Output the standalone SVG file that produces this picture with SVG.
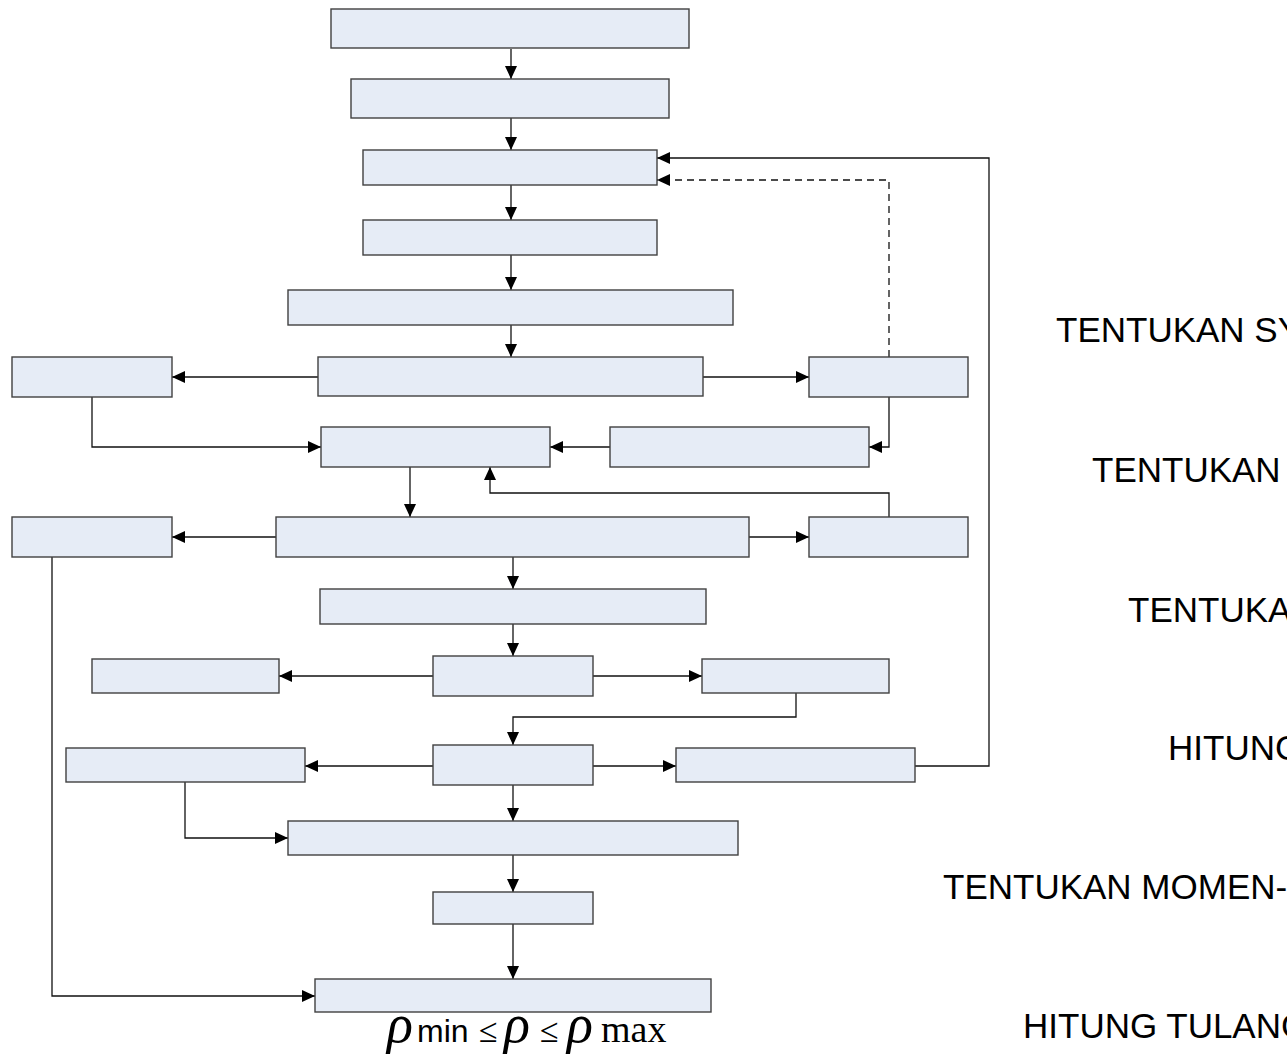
<svg xmlns="http://www.w3.org/2000/svg" width="1287" height="1057" viewBox="0 0 1287 1057">
<style>
.box{fill:#E6ECF6;stroke:#404040;stroke-width:1.4}
.c{fill:none;stroke:#111;stroke-width:1.3}
.d{stroke-dasharray:7 5}
.lbl{font-family:"Liberation Sans",Arial,sans-serif;font-size:35px;fill:#000}
.ser{font-family:"Liberation Serif","Times New Roman",serif}
.san{font-family:"Liberation Sans",Arial,sans-serif}
.rho{font-family:"Liberation Serif","Times New Roman",serif;font-style:italic;font-size:54px}
</style>
<defs>
<marker id="ah" markerUnits="userSpaceOnUse" markerWidth="14" markerHeight="12" refX="13" refY="6" orient="auto">
<path d="M0,0 L13,6 L0,12 Z" fill="#000"/>
</marker>
</defs>
<rect width="1287" height="1057" fill="#fff"/>
<g id="connectors">
<path class="c" marker-end="url(#ah)" d="M511 49 V79"/>
<path class="c" marker-end="url(#ah)" d="M511 118 V150"/>
<path class="c" marker-end="url(#ah)" d="M511 185 V220"/>
<path class="c" marker-end="url(#ah)" d="M511 255 V290"/>
<path class="c" marker-end="url(#ah)" d="M511 325 V357"/>
<path class="c" marker-end="url(#ah)" d="M318 377 H172"/>
<path class="c" marker-end="url(#ah)" d="M703 377 H809"/>
<path class="c" marker-end="url(#ah)" d="M92 397 V447 H321"/>
<path class="c" marker-end="url(#ah)" d="M889 397 V447 H869"/>
<path class="c d" marker-end="url(#ah)" d="M889 357 V180 H657"/>
<path class="c" marker-end="url(#ah)" d="M610 447 H550"/>
<path class="c" marker-end="url(#ah)" d="M410 467 V517"/>
<path class="c" marker-end="url(#ah)" d="M889 517 V493 H490 V467"/>
<path class="c" marker-end="url(#ah)" d="M276 537 H172"/>
<path class="c" marker-end="url(#ah)" d="M749 537 H809"/>
<path class="c" marker-end="url(#ah)" d="M52 557 V996 H315"/>
<path class="c" marker-end="url(#ah)" d="M513 557 V589"/>
<path class="c" marker-end="url(#ah)" d="M513 624 V656"/>
<path class="c" marker-end="url(#ah)" d="M433 676 H279"/>
<path class="c" marker-end="url(#ah)" d="M593 676 H702"/>
<path class="c" marker-end="url(#ah)" d="M796 693 V717 H513 V745"/>
<path class="c" marker-end="url(#ah)" d="M433 766 H305"/>
<path class="c" marker-end="url(#ah)" d="M593 766 H676"/>
<path class="c" marker-end="url(#ah)" d="M915 766 H989 V158 H657"/>
<path class="c" marker-end="url(#ah)" d="M185 782 V838 H288"/>
<path class="c" marker-end="url(#ah)" d="M513 785 V821"/>
<path class="c" marker-end="url(#ah)" d="M513 855 V892"/>
<path class="c" marker-end="url(#ah)" d="M513 924 V979"/>
</g>
<g id="n1"><rect class="box" x="331" y="9" width="358" height="39"/></g>
<g id="n2"><rect class="box" x="351" y="79" width="318" height="39"/></g>
<g id="n3"><rect class="box" x="363" y="150" width="294" height="35"/></g>
<g id="n4"><rect class="box" x="363" y="220" width="294" height="35"/></g>
<g id="n5"><rect class="box" x="288" y="290" width="445" height="35"/></g>
<g id="n6"><rect class="box" x="318" y="357" width="385" height="39"/></g>
<g id="n6l"><rect class="box" x="12" y="357" width="160" height="40"/></g>
<g id="n6r"><rect class="box" x="809" y="357" width="159" height="40"/></g>
<g id="n7"><rect class="box" x="321" y="427" width="229" height="40"/></g>
<g id="n7r"><rect class="box" x="610" y="427" width="259" height="40"/></g>
<g id="n8l"><rect class="box" x="12" y="517" width="160" height="40"/></g>
<g id="n8"><rect class="box" x="276" y="517" width="473" height="40"/></g>
<g id="n8r"><rect class="box" x="809" y="517" width="159" height="40"/></g>
<g id="n9"><rect class="box" x="320" y="589" width="386" height="35"/></g>
<g id="n10l"><rect class="box" x="92" y="659" width="187" height="34"/></g>
<g id="n10"><rect class="box" x="433" y="656" width="160" height="40"/></g>
<g id="n10r"><rect class="box" x="702" y="659" width="187" height="34"/></g>
<g id="n11l"><rect class="box" x="66" y="748" width="239" height="34"/></g>
<g id="n11"><rect class="box" x="433" y="745" width="160" height="40"/></g>
<g id="n11r"><rect class="box" x="676" y="748" width="239" height="34"/></g>
<g id="n12"><rect class="box" x="288" y="821" width="450" height="34"/></g>
<g id="n13"><rect class="box" x="433" y="892" width="160" height="32"/></g>
<g id="n14"><rect class="box" x="315" y="979" width="396" height="33"/></g>
<g id="formula">
<text y="1042" fill="#000"><tspan class="rho" x="387">ρ</tspan><tspan class="san" x="417" font-size="32">min</tspan><tspan class="ser" x="479" font-size="34">≤</tspan><tspan class="rho" x="504">ρ</tspan><tspan class="ser" x="540" font-size="34">≤</tspan><tspan class="rho" x="567">ρ</tspan><tspan class="ser" x="601" font-size="38">max</tspan></text>
</g>
<g id="labels">
<text class="lbl" x="1056" y="342">TENTUKAN SY</text>
<text class="lbl" x="1092" y="482">TENTUKAN</text>
<text class="lbl" x="1128" y="622">TENTUKA</text>
<text class="lbl" x="1168" y="760">HITUNG</text>
<text class="lbl" x="943" y="899">TENTUKAN MOMEN-</text>
<text class="lbl" x="1023" y="1038">HITUNG TULANG</text>
</g>
</svg>
